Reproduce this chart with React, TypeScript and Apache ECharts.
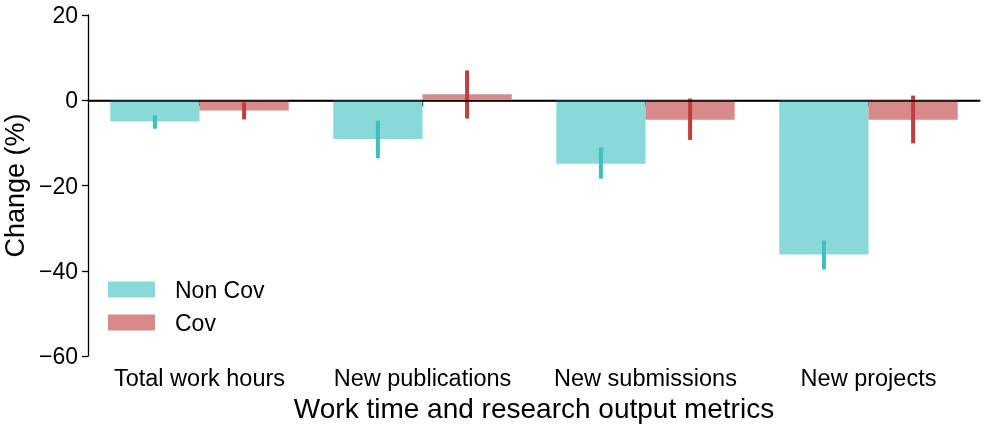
import React, { useEffect, useRef } from "react";
import * as echarts from "echarts";

const categories = ["Total work hours", "New publications", "New submissions", "New projects"];
const nonCovValues = [-5.0, -9.1, -14.9, -36.2];
const covValues = [-2.4, 1.4, -4.6, -4.6];
const nonCovErrLow = [-6.7, -13.6, -18.4, -39.7];
const nonCovErrHigh = [-3.6, -4.8, -11.1, -32.9];
const covErrLow = [-4.5, -4.3, -9.3, -10.1];
const covErrHigh = [-0.5, 7.0, 0.4, 1.1];
const yTicks = { min: -60, max: 20, interval: 20 };

const FONT = "'Liberation Sans', Arial, Helvetica, sans-serif";

export default function App() {
  const ref = useRef<HTMLDivElement>(null);
  useEffect(() => {
    if (!ref.current) return;
    const chart = echarts.init(ref.current, undefined, { renderer: "svg" });
    const errSeries = (name: string, lows: number[], highs: number[], offset: number, color: string) => ({
      type: "custom",
      name,
      z: 5,
      silent: true,
      encode: { x: 0, y: [1, 2] },
      data: categories.map((_, i) => [i, lows[i], highs[i]]),
      renderItem: (params: any, api: any) => {
        const c = api.value(0);
        const lo = api.value(1);
        const hi = api.value(2);
        const p1 = api.coord([c, hi]);
        const p2 = api.coord([c, lo]);
        const bw = api.size([1, 0])[0];
        const x = p1[0] + offset * bw;
        return {
          type: "rect",
          shape: { x: x - 2, y: p1[1], width: 4, height: p2[1] - p1[1] },
          style: { fill: color },
        };
      },
    });
    chart.setOption({
      animation: false,
      textStyle: { fontFamily: FONT },
      grid: { left: 88, right: 7, top: 15, bottom: 69, containLabel: false, outerBoundsMode: "none" },
      legend: {
        data: ["Non Cov", "Cov"],
        orient: "vertical",
        left: 108,
        top: 278,
        padding: 0,
        itemWidth: 47,
        itemHeight: 16,
        itemGap: 10,
        icon: "rect",
        textStyle: { fontSize: 23, color: "#000", fontFamily: FONT, padding: [0, 0, 0, 15] },
      },
      xAxis: {
        type: "category",
        data: categories,
        name: "Work time and research output metrics",
        nameLocation: "middle",
        nameGap: 37,
        nameTextStyle: { fontSize: 28, color: "#000", fontFamily: FONT },
        axisLine: { show: true, lineStyle: { color: "#000", width: 1.3 } },
        axisTick: { show: true, alignWithLabel: true, length: 6, lineStyle: { color: "#000", width: 1.3 } },
        axisLabel: { fontSize: 23.5, color: "#000", margin: 10, interval: 0, fontFamily: FONT },
        splitLine: { show: false },
      },
      yAxis: {
        type: "value",
        min: yTicks.min,
        max: yTicks.max,
        interval: yTicks.interval,
        name: "Change (%)",
        nameLocation: "middle",
        nameGap: 58,
        nameTextStyle: { fontSize: 27, color: "#000", fontFamily: FONT },
        axisLine: { show: true, onZero: false, lineStyle: { color: "#000", width: 1.3 } },
        axisTick: { show: true, length: 6, lineStyle: { color: "#000", width: 1.3 } },
        axisLabel: {
          fontSize: 23,
          color: "#000",
          margin: 10,
          fontFamily: FONT,
          formatter: (v: number) => (v < 0 ? "\u2212" + Math.abs(v) : String(v)),
        },
        splitLine: { show: false },
      },
      series: [
        {
          type: "bar",
          name: "Non Cov",
          data: nonCovValues,
          barGap: "0%",
          barCategoryGap: "20%",
          itemStyle: { color: "#8ad9d9" },
          markLine: {
            silent: true,
            symbol: "none",
            label: { show: false },
            lineStyle: { color: "#000", width: 1.5, type: "solid" },
            data: [{ yAxis: 0 }],
            z: 10,
          },
        },
        {
          type: "bar",
          name: "Cov",
          data: covValues,
          barGap: "0%",
          barCategoryGap: "20%",
          itemStyle: { color: "#d88a8a" },
        },
        errSeries("errNonCov", nonCovErrLow, nonCovErrHigh, -0.2, "#3dbfbf"),
        errSeries("errCov", covErrLow, covErrHigh, 0.2, "#c03d3d"),
      ],
    });
    return () => chart.dispose();
  }, []);
  return <div ref={ref} style={{ position: "fixed", left: 0, top: 0, width: 987, height: 425 }} />;
}
